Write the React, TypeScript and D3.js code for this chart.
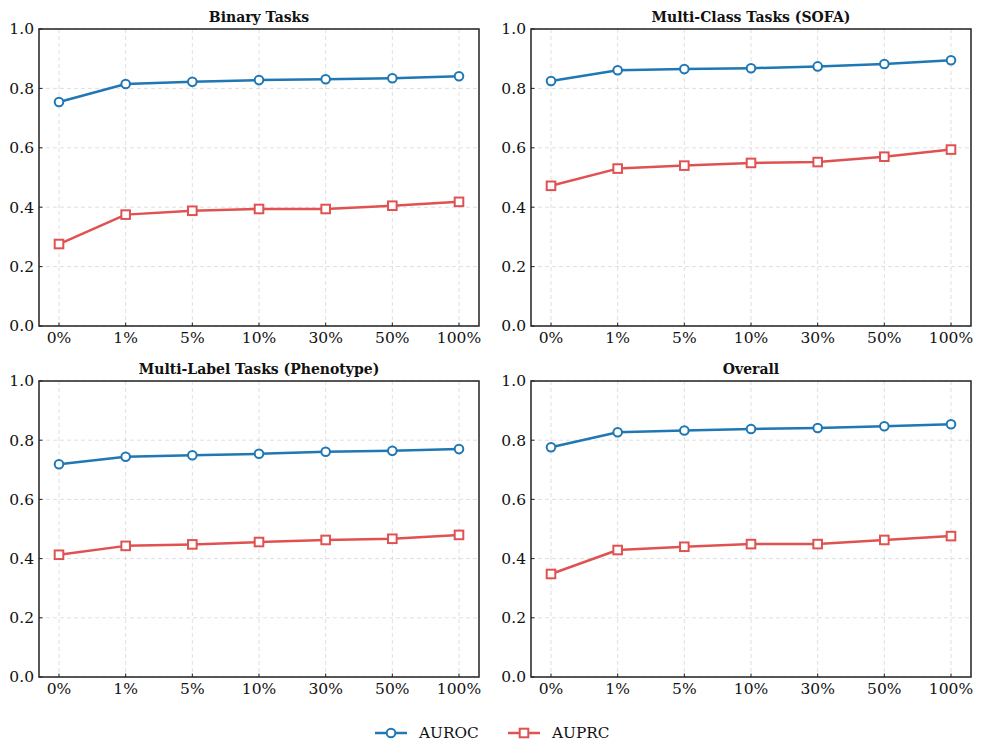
import React from "react";
import * as d3 from "d3";

const categories = ["0%", "1%", "5%", "10%", "30%", "50%", "100%"];
const yTicks = [0, 0.2, 0.4, 0.6, 0.8, 1.0];

const panelTitles = ["Binary Tasks", "Multi-Class Tasks (SOFA)", "Multi-Label Tasks (Phenotype)", "Overall"];

const binaryAUROC = [0.754, 0.815, 0.822, 0.828, 0.831, 0.834, 0.841];
const binaryAUPRC = [0.276, 0.375, 0.388, 0.394, 0.394, 0.405, 0.418];
const multiClassAUROC = [0.825, 0.861, 0.865, 0.868, 0.874, 0.882, 0.895];
const multiClassAUPRC = [0.472, 0.530, 0.540, 0.549, 0.552, 0.570, 0.594];
const multiLabelAUROC = [0.719, 0.744, 0.749, 0.754, 0.761, 0.764, 0.770];
const multiLabelAUPRC = [0.413, 0.443, 0.448, 0.456, 0.463, 0.467, 0.480];
const overallAUROC = [0.776, 0.827, 0.833, 0.838, 0.841, 0.847, 0.854];
const overallAUPRC = [0.348, 0.429, 0.440, 0.449, 0.449, 0.463, 0.476];

const seriesNames = ["AUROC", "AUPRC"];
const BLUE = "#1f77b4";
const RED = "#e05252";
const FONT = "'DejaVu Serif', serif";

const panelData = [
  [binaryAUROC, binaryAUPRC],
  [multiClassAUROC, multiClassAUPRC],
  [multiLabelAUROC, multiLabelAUPRC],
  [overallAUROC, overallAUPRC],
];

const panelBoxes = [
  { x0: 39, x1: 479, y0: 29, y1: 326 },
  { x0: 531, x1: 971, y0: 29, y1: 326 },
  { x0: 39, x1: 479, y0: 381, y1: 677 },
  { x0: 531, x1: 971, y0: 381, y1: 677 },
];

function Marker({ kind, x, y, color }: { kind: number; x: number; y: number; color: string }) {
  if (kind === 0) return <circle cx={x} cy={y} r={4.3} fill="#fff" stroke={color} strokeWidth={2} />;
  return <rect x={x - 4.3} y={y - 4.3} width={8.6} height={8.6} fill="#fff" stroke={color} strokeWidth={2} />;
}

function Panel({ idx }: { idx: number }) {
  const b = panelBoxes[idx];
  const x = d3.scalePoint<string>().domain(categories).range([b.x0, b.x1]).padding(0.3);
  const y = d3.scaleLinear().domain([0, 1]).range([b.y1, b.y0]);
  const line = d3.line<number>().x((_, i) => x(categories[i])!).y((v) => y(v));
  const colors = [BLUE, RED];
  return (
    <g>
      {yTicks.map((t) => (
        <line key={"gy" + t} x1={b.x0} x2={b.x1} y1={y(t)} y2={y(t)} stroke="#b0b0b0" strokeOpacity={0.5} strokeWidth={0.8} strokeDasharray="4,3" />
      ))}
      {categories.map((c) => (
        <line key={"gx" + c} x1={x(c)} x2={x(c)} y1={b.y0} y2={b.y1} stroke="#b0b0b0" strokeOpacity={0.5} strokeWidth={0.8} strokeDasharray="4,3" />
      ))}
      {panelData[idx].map((vals, si) => (
        <g key={si}>
          <path d={line(vals) || ""} fill="none" stroke={colors[si]} strokeWidth={2.5} strokeLinejoin="round" />
          {vals.map((v, i) => (
            <Marker key={i} kind={si} x={x(categories[i])!} y={y(v)} color={colors[si]} />
          ))}
        </g>
      ))}
      <rect x={b.x0} y={b.y0} width={b.x1 - b.x0} height={b.y1 - b.y0} fill="none" stroke="#222" strokeWidth={1.5} />
      {yTicks.map((t) => (
        <g key={"ty" + t}>
          <line x1={b.x0} x2={b.x0 + 3.5} y1={y(t)} y2={y(t)} stroke="#222" strokeWidth={1} />
          <text x={b.x0 - 5} y={y(t)} dy="0.35em" textAnchor="end" fontFamily={FONT} fontSize={15.5} fill="#111">
            {t.toFixed(1)}
          </text>
        </g>
      ))}
      {categories.map((c) => (
        <g key={"tx" + c}>
          <line x1={x(c)} x2={x(c)} y1={b.y1} y2={b.y1 - 3.5} stroke="#222" strokeWidth={1} />
          <text x={x(c)} y={b.y1 + 16.5} textAnchor="middle" fontFamily={FONT} fontSize={15.5} fill="#111">
            {c}
          </text>
        </g>
      ))}
      <text x={(b.x0 + b.x1) / 2} y={b.y0 - 7} textAnchor="middle" fontFamily={FONT} fontWeight="bold" fontSize={14} fill="#111">
        {panelTitles[idx]}
      </text>
    </g>
  );
}

export default function App() {
  const legendItems = [
    { x: 375, color: BLUE },
    { x: 508, color: RED },
  ];
  return (
    <div style={{ position: "absolute", left: 0, top: 0 }}>
      <svg width={983} height={755} style={{ display: "block", background: "#fff" }}>
        {panelBoxes.map((_, i) => (
          <Panel key={i} idx={i} />
        ))}
        {legendItems.map((it, i) => (
          <g key={i}>
            <line x1={it.x} x2={it.x + 32} y1={733} y2={733} stroke={it.color} strokeWidth={2.5} />
            <Marker kind={i} x={it.x + 16} y={733} color={it.color} />
            <text x={it.x + 44} y={733} dy="0.35em" fontFamily={FONT} fontSize={15.3} fill="#111">
              {seriesNames[i]}
            </text>
          </g>
        ))}
      </svg>
    </div>
  );
}
